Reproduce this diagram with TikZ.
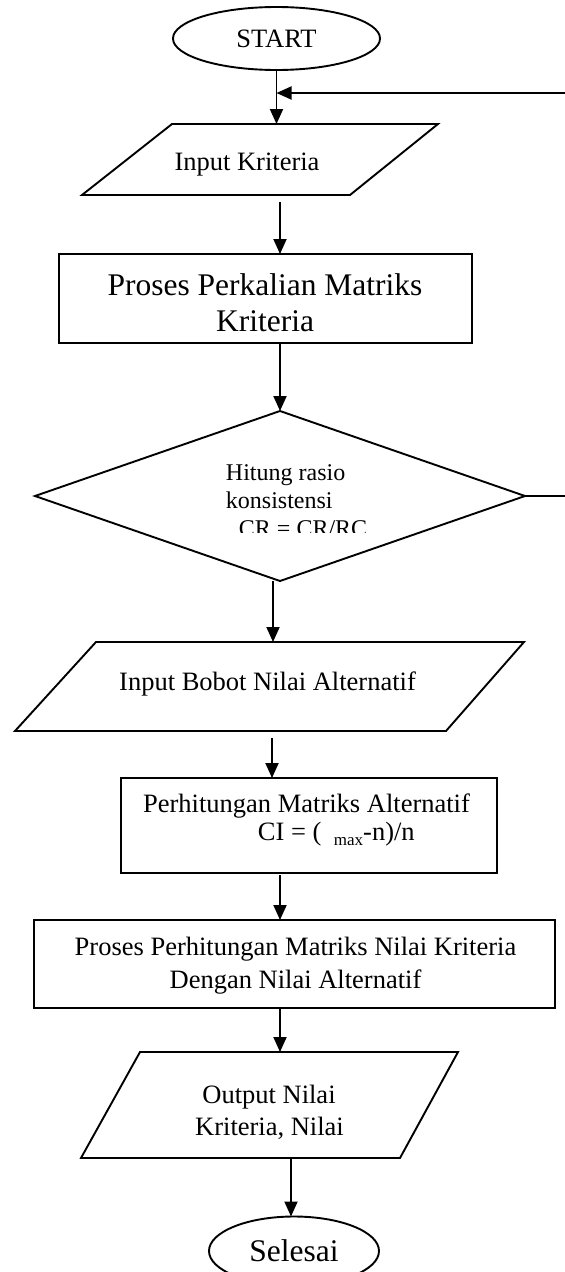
\documentclass[tikz,border=0pt]{standalone}
\usepackage{fontspec}
\setmainfont{Liberation Serif}
\usetikzlibrary{shapes.geometric,arrows.meta}
\begin{document}
\begin{tikzpicture}[x=1pt,y=-1pt,line width=1.9pt,
  arr/.style={-{Triangle[length=15pt,width=13pt]}},
  box/.style={draw,rectangle,inner sep=0pt,outer sep=0pt},
  frame/.style={rectangle,inner sep=0pt,outer sep=0pt},
  txt/.style={font=\fontsize{26.5}{32}\selectfont,inner sep=0pt,anchor=base},
  big/.style={font=\fontsize{31.5}{36}\selectfont,inner sep=0pt,anchor=base},
  dtxt/.style={font=\fontsize{24}{28}\selectfont,inner sep=0pt,anchor=base west},
  oval/.style={draw,ellipse,inner sep=0pt,outer sep=0pt}]
\useasboundingbox (0,0) rectangle (565,1272);

% START
\node[oval,minimum width=207pt,minimum height=63pt,font=\fontsize{26.5}{32}\selectfont] (start) at (276.5,38.5) {START};

% Input Kriteria
\node[frame,minimum width=356pt,minimum height=71pt] (ik) at (260,159.5) {};
\draw ([xshift=90pt]ik.north west) -- (ik.north east) -- ([xshift=-88pt]ik.south east) -- (ik.south west) -- cycle;
\node[txt] (ikt) at (247,170) {Input Kriteria};

% Proses Perkalian Matriks Kriteria
\node[box,minimum width=413pt,minimum height=89pt] (r1) at (265.5,298.5) {};
\node[big] (r1a) at (265,295) {Proses Perkalian Matriks};
\node[big] (r1b) at (265,331) {Kriteria};

% Decision
\node[draw,diamond,minimum width=490pt,minimum height=170pt,inner sep=0pt,outer sep=0pt] (dia) at (280,496) {};
\node[dtxt] (dt1) at (225,480) {Hitung rasio};
\node[dtxt] (dt2) at (225,508) {konsistensi};
\begin{scope}
  \clip (150,440) rectangle (450,532.7);
  \node[dtxt] (dt3) at (238,536) {CR = CR/RC};
\end{scope}

% Input Bobot Nilai Alternatif
\node[frame,minimum width=509pt,minimum height=89pt] (ib) at (269.5,686.5) {};
\draw ([xshift=81pt]ib.north west) -- (ib.north east) -- ([xshift=-78pt]ib.south east) -- (ib.south west) -- cycle;
\node[txt] (ibt) at (267.5,690) {Input Bobot Nilai Alternatif};

% Perhitungan Matriks Alternatif
\node[box,minimum width=376pt,minimum height=95pt] (r2) at (309,825.5) {};
\node[txt] (r2a) at (306.5,812) {Perhitungan Matriks Alternatif};
\node[txt,anchor=base west] (r2b) at (257,840) {\makebox[76pt][l]{CI = (}\raisebox{-5pt}{\fontsize{17}{17}\selectfont max}-n)/n};

% Proses Perhitungan Matriks Nilai Kriteria
\node[box,minimum width=521pt,minimum height=88pt] (r3) at (294.5,964) {};
\node[txt] (r3a) at (295.5,955) {Proses Perhitungan Matriks Nilai Kriteria};
\node[txt] (r3b) at (295.5,988) {Dengan Nilai Alternatif};

% Output
\node[frame,minimum width=377pt,minimum height=106pt] (out) at (269.5,1105) {};
\draw ([xshift=59pt]out.north west) -- (out.north east) -- ([xshift=-58pt]out.south east) -- (out.south west) -- cycle;
\node[txt] (outa) at (269,1103) {Output Nilai};
\node[txt] (outb) at (269.5,1135) {Kriteria, Nilai};

% Selesai
\node[oval,minimum width=170pt,minimum height=69pt,font=\fontsize{31.5}{36}\selectfont] (fin) at (294,1251) {Selesai};

% helper coordinates
\coordinate (fbin) at (565,93);
\coordinate (ca) at ([xshift=-7pt]dia.south);
\coordinate (cb) at ([xshift=-8pt]dia.south);
\coordinate (cc) at ([xshift=-3pt]fin.north);

% connectors
\draw[arr] (start.south) -- (start.south |- ik.north);
\draw[arr] (fbin) -- (fbin -| start.south);
\draw[arr,shorten <=7pt] (dia.north |- ik.south) -- (dia.north |- r1.north);
\draw[arr] (dia.north |- r1.south) -- (dia.north);
\draw (dia.east) -- (dia.east -| fbin);
\draw[arr] (ca) -- (ca |- ib.north);
\draw[arr,shorten <=7pt] (cb |- ib.south) -- (cb |- r2.north);
\draw[arr,shorten <=2pt] (dia.south |- r2.south) -- (dia.south |- r3.north);
\draw[arr] (dia.south |- r3.south) -- (dia.south |- out.north);
\draw[arr] (cc |- out.south) -- (cc);
\end{tikzpicture}
\end{document}
